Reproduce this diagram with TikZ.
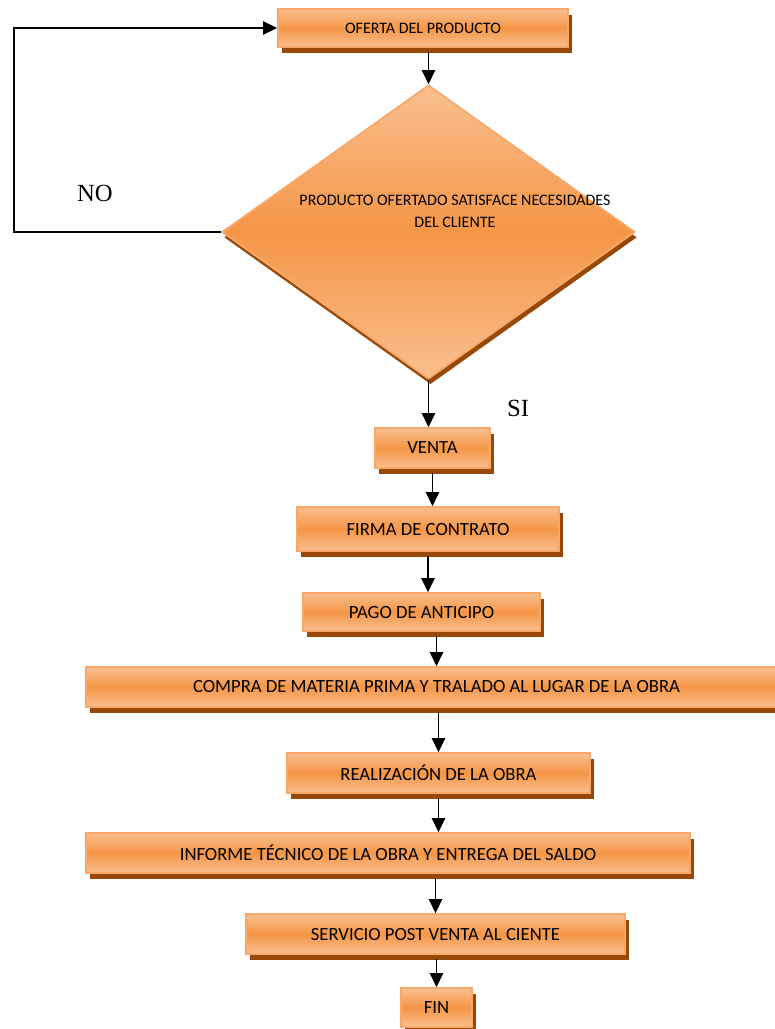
\documentclass[tikz,border=0pt]{standalone}
\usepackage{fontspec}
\setmainfont{Liberation Serif}
\newfontfamily\carlito{Carlito}
\usetikzlibrary{shapes.geometric,arrows.meta,shadows}

\definecolor{lightor}{HTML}{F9BF90}
\definecolor{midor}{HTML}{F59646}
\definecolor{edgeor}{HTML}{F8A868}
\definecolor{shadowbrown}{HTML}{984807}

\tikzset{
  boxfill/.style={top color=lightor, bottom color=lightor, middle color=midor},
  box/.style 2 args={draw=edgeor, line width=1.3pt, boxfill,
    minimum width=#1*0.75pt, minimum height=#2*0.75pt, inner sep=0pt,
    font=\carlito\fontsize{14}{16}\selectfont,
    drop shadow={shadow xshift=2.8pt, shadow yshift=-4.5pt, fill=shadowbrown, opacity=1}},
  smalltext/.style={font=\carlito\fontsize{12}{14}\selectfont},
  arr/.style={line width=1.2pt, -{Triangle[length=10.5pt,width=10pt]}},
  answer/.style={font=\fontsize{18.5}{20}\selectfont, inner sep=0pt}
}

\begin{document}
\begin{tikzpicture}[x=0.75pt, y=-0.75pt]
\useasboundingbox (0,0) rectangle (775,1029);

% decision
\node[diamond, draw=edgeor, line width=1.3pt, boxfill, inner sep=0pt,
      minimum width=413*0.75pt, minimum height=294*0.75pt,
      drop shadow={shadow xshift=1.5pt, shadow yshift=-4pt, fill=shadowbrown, opacity=1}]
      (dia) at (428.5,232) {};
\node[font=\carlito\fontsize{12}{16.5}\selectfont, align=center, inner sep=0pt]
      (dtext) at (455,211) {PRODUCTO OFERTADO SATISFACE NECESIDADES\\DEL CLIENTE};

% process steps
\node[box={290}{38}, smalltext] (ofe) at (423,28) {OFERTA DEL PRODUCTO};
\node[box={115}{40}] (ven) at (432.5,448) {VENTA};
\node[box={262}{44}] (fir) at (428,529)   {FIRMA DE CONTRATO};
\node[box={237}{38}] (pag) at (421.5,612) {PAGO DE ANTICIPO};
\node[box={701}{40}] (com) at (436.5,687) {COMPRA DE MATERIA PRIMA Y TRALADO AL LUGAR DE LA OBRA};
\node[box={303}{40}] (rea) at (438.5,773) {REALIZACIÓN DE LA OBRA};
\node[box={604}{40}] (inf) at (388,853)   {INFORME TÉCNICO DE LA OBRA Y ENTREGA DEL SALDO};
\node[box={379}{40}] (ser) at (435.5,934) {SERVICIO POST VENTA AL CIENTE};
\node[box={71}{39}]  (fin) at (436.5,1007.5) {FIN};

% answers
\node[answer] (no) at (95,193) {NO};
\node[answer] (si) at (518,408) {SI};

% connectors
\coordinate (lp) at (14,229);
\draw[arr] (dia.west) -- (dia.west -| lp) |- (ofe.west);
\draw[arr] ([yshift=-3pt]ofe.south -| dia.north) -- (dia.north);
\draw[arr] (dia.south) -- (dia.south |- ven.north);
\draw[arr] ([yshift=-3pt]ven.south) -- (ven.south |- fir.north);
\draw[arr] ([yshift=-3pt]fir.south) -- (fir.south |- pag.north);
\draw[arr] ([yshift=-3pt]pag.south -| com.north) -- (com.north);
\draw[arr] ([yshift=-3pt]com.south -| rea.north) -- (rea.north);
\draw[arr] ([yshift=-3pt]rea.south) -- (rea.south |- inf.north);
\draw[arr] ([yshift=-3pt]inf.south -| ser.north) -- (ser.north);
\draw[arr] ([yshift=-3pt]ser.south -| fin.north) -- (fin.north);
\end{tikzpicture}
\end{document}
